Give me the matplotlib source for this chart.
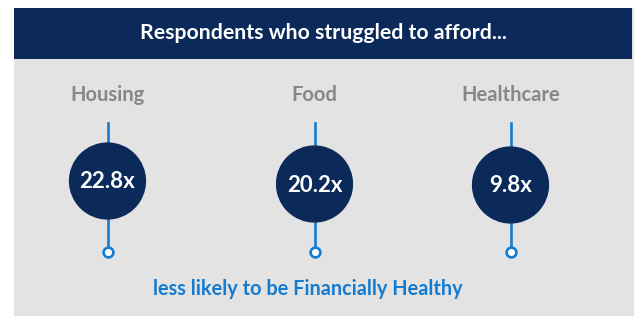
import matplotlib
matplotlib.use("Agg")
import matplotlib.pyplot as plt
from matplotlib.patches import Rectangle, Circle

# ---- data ----
title = "Respondents who struggled to afford..."
categories = ["Housing", "Food", "Healthcare"]
values = [22.8, 20.2, 9.8]
value_labels = [f"{v:.1f}x" for v in values]
footer = "less likely to be Financially Healthy"

# ---- layout (pixel coordinates) ----
W, H = 634, 316
cx = [107.5, 314.5, 510.5]
cy = [181, 184, 185]
label_y = 95
stem_top, stem_bot = 123, 252
radius = 38.6

navy = "#0b2959"
gray_bg = "#e3e3e3"
blue = "#137bd0"
label_gray = "#878787"
font = ["Lato", "DejaVu Sans"]

fig = plt.figure(figsize=(W / 100, H / 100), dpi=100)
ax = fig.add_axes([0, 0, 1, 1])
ax.set_xlim(0, W)
ax.set_ylim(H, 0)
ax.set_aspect("auto")
ax.axis("off")
fig.patch.set_facecolor("white")

ax.add_patch(Rectangle((14, 8), W - 14, H - 8, facecolor=gray_bg, edgecolor="none", zorder=0))
ax.add_patch(Rectangle((14, 8), 618, 51, facecolor=navy, edgecolor="none", zorder=1))
ax.text(323, 33, title, color="white", fontsize=15.3, fontweight="bold", family=font,
        ha="center", va="center", zorder=2)

for x, y, cat, lab in zip(cx, cy, categories, value_labels):
    ax.plot([x, x], [stem_top, stem_bot], color=blue, lw=1.9, zorder=2)
    ax.plot([x], [stem_bot], marker="o", markersize=7, markerfacecolor="white",
            markeredgecolor=blue, markeredgewidth=1.9, zorder=3)
    ax.add_patch(Circle((x, y), radius, facecolor=navy, edgecolor="none", zorder=4))
    ax.text(x, y + 1, lab, color="white", fontsize=16, fontweight="bold", family=font,
            ha="center", va="center", zorder=5)
    ax.text(x, label_y, cat, color=label_gray, fontsize=14.5, fontweight="bold", family=font,
            ha="center", va="center", zorder=5)

ax.text(308, 289, footer, color=blue, fontsize=14.3, fontweight="bold", family=font,
        ha="center", va="center", zorder=5)

fig.savefig("out.png", dpi=100, facecolor="white")
